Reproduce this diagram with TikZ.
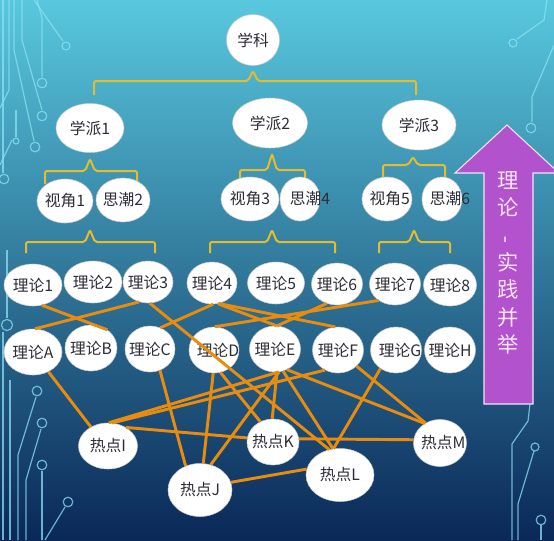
\documentclass[tikz,border=0pt]{standalone}
\usepackage{fontspec}
\setmainfont{Noto Sans CJK SC}
\usetikzlibrary{shapes.geometric}
\definecolor{bgtop}{RGB}{88,200,222}
\definecolor{bgmid}{RGB}{36,136,180}
\definecolor{bgbot}{RGB}{10,40,88}
\definecolor{edgeor}{RGB}{232,140,15}
\definecolor{ybr}{RGB}{230,188,45}
\definecolor{arrp}{RGB}{178,82,205}
\definecolor{arrtxt}{RGB}{250,228,250}
\definecolor{circ}{RGB}{140,225,242}
\definecolor{ntext}{RGB}{45,45,55}
\newcommand\mk[1]{\makebox[0pt]{#1}}
\newcommand\ybr[6]{\draw[ybrace] (#1,#6) -- (#1,#4) -- ({#3-5},#4) -- (#3,#5) -- ({#3+5},#4) -- (#2,#4) -- (#2,#6);}
\begin{document}
\begin{tikzpicture}[x=0.75pt,y=-0.75pt,
 bub/.style 2 args={ellipse, fill=white, draw=black!20, line width=0.4pt, inner sep=0pt,
   minimum width=#1*0.75pt, minimum height=#2*0.75pt, font=\fontsize{11.8}{13}\selectfont, text=ntext},
 link/.style={draw=edgeor, line width=2.2pt},
 ybrace/.style={draw=ybr, line width=1.5pt, rounded corners=1.5pt},
 deco/.style={draw=circ, line width=0.9pt, opacity=0.75},
]
\useasboundingbox (0,0) rectangle (554,540);
\shade[top color=bgtop, middle color=bgmid, bottom color=bgbot] (0,0) rectangle (554,540);

% circuit decorations, left
\draw[deco] (3,0) -- (3,173); \draw[deco] (4,179) circle (3.6pt);
\draw[deco] (9,0) -- (9,90) -- (0,108);
\draw[deco] (14,0) -- (14,50) -- (34,141); \draw[deco] (35,147) circle (3.6pt);
\draw[deco] (22,0) -- (22,40) -- (42,110); \draw[deco] (42,116) circle (3.6pt);
\draw[deco] (37,0) -- (42,18) -- (42,77); \draw[deco] (42,83) circle (3.6pt);
\draw[deco] (34,0) -- (63,41); \draw[deco] (66,46) circle (3pt);
\draw[deco] (16,110) -- (16,137); \draw[deco] (16,141) circle (2.2pt);
\draw[deco] (0,165) -- (12,140);
\draw[deco] (7,325) circle (4.2pt); \draw[deco] (7,318) -- (7,250);
\draw[deco] (3,332) -- (3,540); \draw[deco] (10,380) -- (10,540);
\draw[deco] (37,391) circle (3.6pt); \draw[deco] (36,397) -- (18,455) -- (18,540);
\draw[deco] (42,423) circle (3.6pt); \draw[deco] (41,429) -- (26,480) -- (26,540);
\draw[deco] (42,465) circle (3.6pt); \draw[deco] (42,471) -- (42,540);
\draw[deco] (68,502) circle (3.6pt); \draw[deco] (65,507) -- (45,540);
% circuit decorations, right
\draw[deco] (547,0) -- (544,20) -- (517,39); \draw[deco] (513,43) circle (3pt);
\draw[deco] (554,45) -- (532,97) -- (532,122); \draw[deco] (531,128) circle (3.6pt);
\draw[deco] (530,404) -- (528,421) -- (512,444) -- (512,540);
\draw[deco] (535,447) circle (3pt); \draw[deco] (534,451) -- (518,504) -- (518,540);
\draw[deco] (541,520) circle (3.6pt); \draw[deco] (541,525) -- (541,540);

% braces
\ybr{94}{416}{253}{81}{71}{95}
\ybr{45}{137}{90}{171}{159}{184}
\ybr{240}{305}{272}{170}{154}{183}
\ybr{383}{445}{413}{165}{157}{177}
\ybr{26}{155}{90}{242}{230}{253}
\ybr{210}{335}{272}{242}{230}{253}
\ybr{379}{450}{414}{242}{230}{253}

% arrow
\draw[fill=arrp, draw=white!85!arrp, line width=0.8pt] (484,404) -- (484,173) -- (455,173) -- (507,125) -- (559,173) -- (533,173) -- (533,404) -- cycle;
\node[text=arrtxt, font=\fontsize{16}{20.5}\selectfont, align=center, inner sep=0pt] (arrlabel) at (508,263) {理\\论\\\rotatebox{90}{-}\\实\\践\\并\\举};

% nodes
\node[bub={53}{51}] (S) at (253,40) {\mk{学科}};
\node[bub={68}{49}] (P1) at (90,128) {\mk{学派1}};
\node[bub={75}{50}] (P2) at (270,123) {\mk{学派2}};
\node[bub={74}{50}] (P3) at (419,125) {\mk{学派3}};
\node[bub={56}{44}] (V1) at (65,201) {\mk{视角1}};
\node[bub={54}{44}] (V2) at (123,200) {\mk{思潮2}};
\node[bub={58}{44}] (V3) at (250,199) {\mk{视角3}};
\node[bub={40}{44}] (V4) at (300,199) {\mk{\hspace*{15pt}思潮4}};
\node[bub={50}{44}] (V5) at (387,199) {\mk{\hspace*{4pt}视角5}};
\node[bub={40}{44}] (V6) at (442,199) {\mk{\hspace*{12pt}思潮6}};

\node[bub={58}{42}] (T1) at (33,285) {\mk{理论1}};
\node[bub={58}{42}] (T2) at (93,282) {\mk{理论2}};
\node[bub={50}{42}] (T3) at (148,282) {\mk{理论3}};
\node[bub={50}{42}] (T4) at (212,283) {\mk{理论4}};
\node[bub={57}{42}] (T5) at (276,283) {\mk{理论5}};
\node[bub={51}{42}] (T6) at (337,284) {\mk{理论6}};
\node[bub={51}{42}] (T7) at (395,284) {\mk{理论7}};
\node[bub={53}{42}] (T8) at (450,285) {\mk{理论8}};

\node[bub={58}{46}] (TA) at (33,352) {\mk{理论A}};
\node[bub={52}{46}] (TB) at (91,348) {\mk{理论B}};
\node[bub={50}{46}] (TC) at (150,349) {\mk{理论C}};
\node[bub={50}{46}] (TD) at (214,350) {\mk{\hspace*{6pt}理论D}};
\node[bub={51}{46}] (TE) at (275,349) {\mk{理论E}};
\node[bub={51}{46}] (TF) at (338,350) {\mk{理论F}};
\node[bub={51}{46}] (TG) at (396,350) {\mk{\hspace*{6pt}理论G}};
\node[bub={51}{46}] (TH) at (450,350) {\mk{理论H}};

\node[bub={59}{46}] (HI) at (108,446) {\mk{热点I}};
\node[bub={64}{53}] (HJ) at (200,490) {\mk{热点J}};
\node[bub={52}{46}] (HK) at (273,442) {\mk{热点K}};
\node[bub={68}{53}] (HL) at (340,475) {\mk{热点L}};
\node[bub={53}{47}] (HM) at (440,443) {\mk{\hspace*{5pt}热点M}};

% connectors
\draw[link] (T1.-66) -- (TB.48);
\draw[link] (T3.-114) -- (TA.85);
\draw[link] (TC.64) -- (T4.-87);
\draw[link] (T4.-74) -- (TE.86);
\draw[link] (T4.-72) -- (TF.97);
\draw[link] (TD.88) -- (T7.-135);
\draw[link] (TE.85) -- (T6.-118);
\draw[link] (T3.-85) -- (HL.113);
\draw[link] (TA.-52) -- (HI.132);
\draw[link] (TC.-65) -- (HJ.121);
\draw[link] (TD.-92) -- (HJ.83);
\draw[link] (TD.-74) -- (HK.122);
\draw[link] (TE.-82) -- (HI.88);
\draw[link] (TF.-123) -- (HI.80);
\draw[link] (TE.-80) -- (HJ.67);
\draw[link] (TE.-85) -- (HK.92);
\draw[link] (TE.-70) -- (HL.105);
\draw[link] (TE.-60) -- (HM.128);
\draw[link] (TF.-41) -- (HM.126);
\draw[link] (TG.-130) -- (HL.104);
\draw[link] (HI.46) -- (HK.171);
\draw[link] (HK.7) -- (HM.173);
\draw[link] (HJ.14) -- (HL.170);
\end{tikzpicture}
\end{document}
